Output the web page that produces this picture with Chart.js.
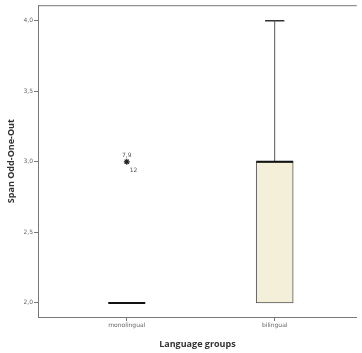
<!DOCTYPE html>
<html>
<head>
<meta charset="utf-8">
<script src="https://cdn.jsdelivr.net/npm/chart.js@4"></script>
<style>
  html, body { margin: 0; padding: 0; background: #fff; }
  #wrap { width: 362px; height: 353px; }
</style>
</head>
<body>
<div id="wrap"><canvas id="boxChart"></canvas></div>
<script>
// data
const categories = ["monolingual", "bilingual"];
const whiskerLow = [2.0, 2.0];
const q1 = [2.0, 2.0];
const median = [2.0, 3.0];
const q3 = [2.0, 3.0];
const whiskerHigh = [2.0, 4.0];
const outlierGroup = [0];
const outlierValue = [3.0];
const outlierLabels = [["7,9", "12"]];
const yTicks = [2.0, 2.5, 3.0, 3.5, 4.0];

const boxHalf = 0.125;
const capHalf = 0.065;
const lineColor = "#555";

// box (floating bars), only where q1 != q3
const boxData = categories.map((c, i) => ({ x: i, y: [q1[i], q3[i]] }))
  .filter((d, i) => q3[i] > q1[i]);

const datasets = [{
  type: "bar",
  data: boxData,
  backgroundColor: "#f3efd8",
  borderColor: lineColor,
  borderWidth: 1,
  borderSkipped: false,
  barThickness: 37,
  order: 3
}];

categories.forEach((c, i) => {
  // median line
  datasets.push({
    type: "line",
    data: [{ x: i - boxHalf, y: median[i] }, { x: i + boxHalf, y: median[i] }],
    borderColor: "#111", borderWidth: 2, pointRadius: 0, order: 1
  });
  // whiskers
  if (whiskerHigh[i] > q3[i]) {
    datasets.push({
      type: "line",
      data: [{ x: i, y: q3[i] }, { x: i, y: whiskerHigh[i] }],
      borderColor: lineColor, borderWidth: 1, pointRadius: 0, order: 2
    });
    datasets.push({
      type: "line",
      data: [{ x: i - capHalf, y: whiskerHigh[i] }, { x: i + capHalf, y: whiskerHigh[i] }],
      borderColor: "#333", borderWidth: 1.5, pointRadius: 0, order: 2
    });
  }
  if (whiskerLow[i] < q1[i]) {
    datasets.push({
      type: "line",
      data: [{ x: i, y: q1[i] }, { x: i, y: whiskerLow[i] }],
      borderColor: lineColor, borderWidth: 1, pointRadius: 0, order: 2
    });
  }
});

// outliers
datasets.push({
  type: "scatter",
  data: outlierGroup.map((g, k) => ({ x: g, y: outlierValue[k] })),
  pointStyle: "star",
  pointRadius: 3,
  borderColor: "#222",
  borderWidth: 1.2,
  order: 0
});

// labels next to outliers
const outlierText = {
  id: "outlierText",
  afterDatasetsDraw(chart) {
    const ctx = chart.ctx;
    const xs = chart.scales.x, ys = chart.scales.y;
    ctx.save();
    ctx.font = "6px 'DejaVu Sans'";
    ctx.fillStyle = "#555";
    outlierGroup.forEach((g, k) => {
      const px = xs.getPixelForValue(g), py = ys.getPixelForValue(outlierValue[k]);
      ctx.textAlign = "center";
      ctx.fillText(outlierLabels[k][0], px, py - 5);
      ctx.textAlign = "left";
      ctx.fillText(outlierLabels[k][1], px + 3, py + 10);
    });
    ctx.restore();
  }
};

// top frame line
const topFrame = {
  id: "topFrame",
  afterDraw(chart) {
    const a = chart.chartArea, ctx = chart.ctx;
    ctx.save();
    ctx.strokeStyle = "#777";
    ctx.lineWidth = 1;
    ctx.beginPath();
    ctx.moveTo(a.left, a.top + 0.5);
    ctx.lineTo(a.right, a.top + 0.5);
    ctx.stroke();
    ctx.restore();
  }
};

new Chart(document.getElementById("boxChart"), {
  data: { datasets: datasets },
  plugins: [outlierText, topFrame],
  options: {
    responsive: true,
    maintainAspectRatio: false,
    animation: false,
    layout: { padding: { top: 5, right: 0, left: 0, bottom: 0 } },
    plugins: { legend: { display: false }, tooltip: { enabled: false } },
    scales: {
      x: {
        type: "linear",
        offset: false,
        min: -0.6,
        max: 1.555,
        afterBuildTicks: (s) => { s.ticks = categories.map((c, i) => ({ value: i })); },
        afterFit: (s) => { s.height = 36; },
        ticks: {
          callback: (v) => categories[v],
          font: { size: 6, family: "'DejaVu Sans'" },
          color: "#666",
          padding: 1,
          maxRotation: 0
        },
        grid: { display: true, offset: false, drawOnChartArea: false, drawTicks: true, tickLength: 4, color: "#777" },
        border: { color: "#777", width: 1 },
        title: {
          display: true,
          text: "Language groups",
          font: { size: 9, weight: "bold", family: "'Open Sans'" },
          color: "#333",
          padding: { top: 0, bottom: 3 }
        }
      },
      y: {
        min: 1.9,
        max: 4.11,
        afterBuildTicks: (s) => { s.ticks = yTicks.map(v => ({ value: v })); },
        afterFit: (s) => { s.width = 38; },
        ticks: {
          callback: (v) => v.toFixed(1).replace(".", ","),
          font: { size: 6, family: "'DejaVu Sans'" },
          color: "#666",
          padding: 1
        },
        grid: { display: true, drawOnChartArea: false, drawTicks: true, tickLength: 4, color: "#777" },
        border: { color: "#777", width: 1 },
        title: {
          display: true,
          text: "Span Odd-One-Out",
          font: { size: 9, weight: "bold", family: "'Open Sans'" },
          color: "#333",
          padding: { top: 6, bottom: 0 }
        }
      }
    }
  }
});
</script>
</body>
</html>
